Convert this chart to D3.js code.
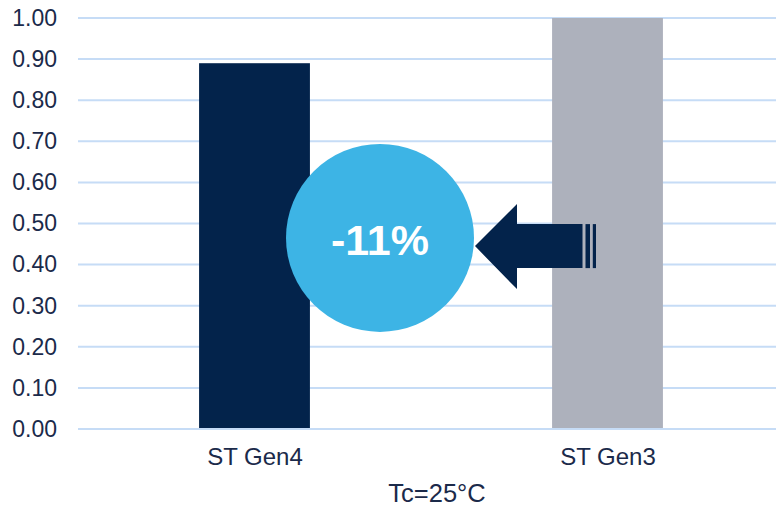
<!DOCTYPE html>
<html><head><meta charset="utf-8">
<script src="https://cdn.jsdelivr.net/npm/d3@7/dist/d3.min.js"></script>
<style>body{margin:0;background:#fff}svg{display:block}</style>
</head><body>
<svg id="c" width="776" height="508"></svg>
<script>
const categories = ["ST Gen4", "ST Gen3"];
const values = [0.89, 1.00];
const barColors = ["#03234b", "#adb1bc"];
const tickValues = [0, 0.1, 0.2, 0.3, 0.4, 0.5, 0.6, 0.7, 0.8, 0.9, 1.0];
const xTitle = "Tc=25°C";
const badgeText = "-11%";

const svg = d3.select("#c");
const font = "'Liberation Sans', Arial, sans-serif";
const textColor = "#1b2a4a";
const x = d3.scaleBand().domain(categories).range([78, 784]).paddingInner(0.686).paddingOuter(0.343);
const y = d3.scaleLinear().domain([0, 1]).range([429, 18]);

// gridlines
svg.append("g").selectAll("line").data(tickValues).join("line")
  .attr("x1", 78).attr("x2", 776)
  .attr("y1", d => y(d)).attr("y2", d => y(d))
  .attr("stroke", "#c6dcf6").attr("stroke-width", 2);

// y labels
const yAxis = d3.axisLeft(y).tickValues(tickValues).tickFormat(d3.format(".2f")).tickSize(0).tickPadding(0);
const ya = svg.append("g").attr("transform", "translate(57,0)").call(yAxis);
ya.select(".domain").remove();
ya.selectAll("text").attr("font-family", font).attr("font-size", 23).attr("fill", textColor);

// bars
svg.append("g").selectAll("rect").data(categories).join("rect")
  .attr("x", d => x(d)).attr("width", x.bandwidth())
  .attr("y", (d, i) => y(values[i])).attr("height", (d, i) => y(0) - y(values[i]) - 1)
  .attr("fill", (d, i) => barColors[i]);

// x labels
const xAxis = d3.axisBottom(x).tickSize(0).tickPadding(0);
const xa = svg.append("g").attr("transform", "translate(0.5,448)").call(xAxis);
xa.select(".domain").remove();
xa.selectAll("text").attr("font-family", font).attr("font-size", 24).attr("fill", textColor);

svg.append("text").attr("x", 437).attr("y", 502).attr("text-anchor", "middle")
  .attr("font-family", font).attr("font-size", 25.5).attr("fill", textColor).text(xTitle);

// arrow (from Gen3 toward Gen4)
const ay = y(0.445);
const tipX = 475, headX = 517, shaftEnd = 582.5;
const arrow = svg.append("g").attr("fill", "#03234b");
arrow.append("path").attr("d",
  `M${tipX},${ay} L${headX},${ay - 42} L${headX},${ay - 22} L${shaftEnd},${ay - 22} L${shaftEnd},${ay + 22} L${headX},${ay + 22} L${headX},${ay + 43} Z`);
arrow.append("rect").attr("x", 585.5).attr("y", ay - 22).attr("width", 4.5).attr("height", 44);
arrow.append("rect").attr("x", 592.8).attr("y", ay - 22).attr("width", 3.2).attr("height", 44);

// badge
const cy = y(0.465), cx = 380;
svg.append("circle").attr("cx", cx).attr("cy", cy).attr("r", 94).attr("fill", "#3db4e5");
svg.append("text").attr("x", cx).attr("y", cy + 17).attr("text-anchor", "middle")
  .attr("font-family", font).attr("font-weight", "bold").attr("font-size", 43).attr("fill", "#fff").text(badgeText);
</script>
</body></html>
